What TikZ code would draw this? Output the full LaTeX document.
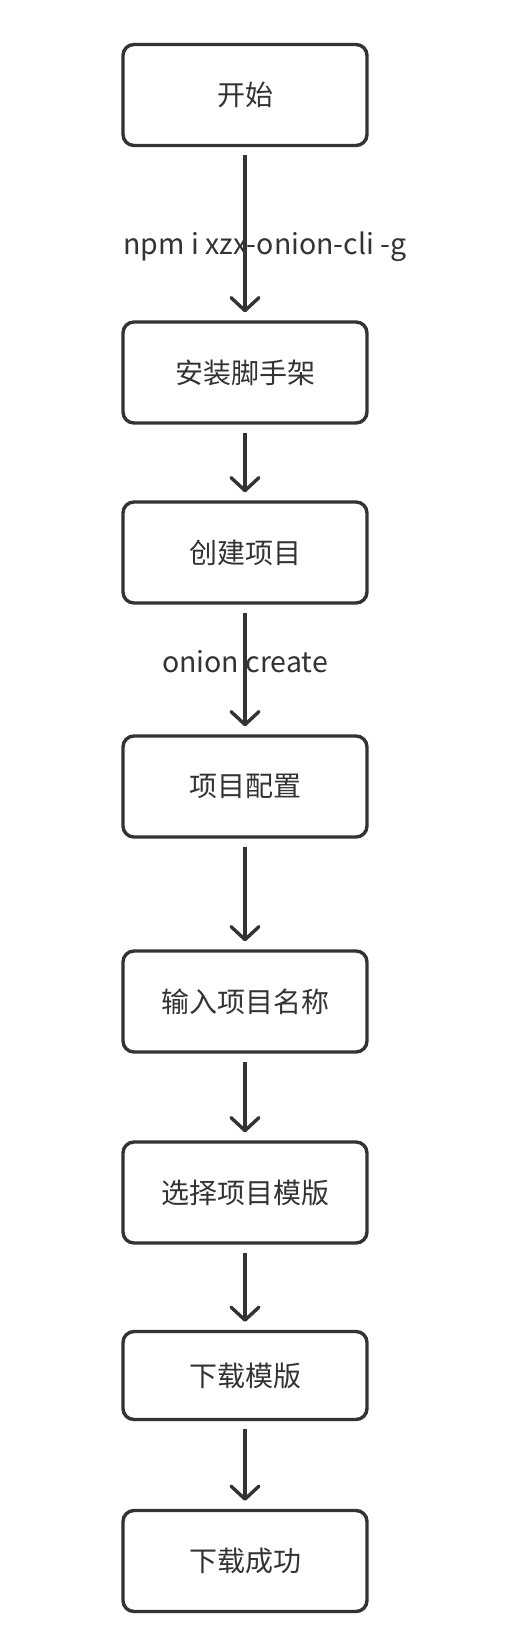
\documentclass[tikz,border=0pt]{standalone}
\usepackage{fontspec}
\setmainfont{Noto Sans CJK SC}
\usetikzlibrary{arrows.meta}
\definecolor{ink}{HTML}{333333}
\tikzset{
  stepbox/.style={draw=ink, line width=3.4pt, rounded corners=11pt, minimum width=244pt,
    minimum height=101pt, inner sep=0pt, text=ink, font=\fontsize{28}{33}\selectfont},
  flow/.style={draw=ink, line width=3.4pt, shorten <=8pt, shorten >=8pt,
    -{Straight Barb[length=13pt,width=28pt,round]}},
  lbl/.style={text=ink, font=\fontsize{28.5}{33}\selectfont, inner sep=0pt}
}
\begin{document}
\begin{tikzpicture}[x=1pt,y=-1pt]
\useasboundingbox[fill=white] (0,0) rectangle (520,1632);
\node[stepbox] (b1) at (245,95) {开始};
\node[stepbox] (b2) at (245,372.5) {安装脚手架};
\node[stepbox] (b3) at (245,552.5) {创建项目};
\node[stepbox] (b4) at (245,786.5) {项目配置};
\node[stepbox] (b5) at (245,1001.5) {输入项目名称};
\node[stepbox] (b6) at (245,1192.5) {选择项目模版};
\node[stepbox, minimum height=88pt] (b7) at (245,1375.5) {下载模版};
\node[stepbox] (b8) at (245,1561) {下载成功};
\draw[flow] (b1) -- (b2);
\draw[flow] (b2) -- (b3);
\draw[flow] (b3) -- (b4);
\draw[flow] (b4) -- (b5);
\draw[flow] (b5) -- (b6);
\draw[flow] (b6) -- (b7);
\draw[flow] (b7) -- (b8);
\node[lbl] (l1) at (265,247) {npm i xzx-onion-cli -g};
\node[lbl] (l2) at (245,662) {onion create};
\end{tikzpicture}
\end{document}
